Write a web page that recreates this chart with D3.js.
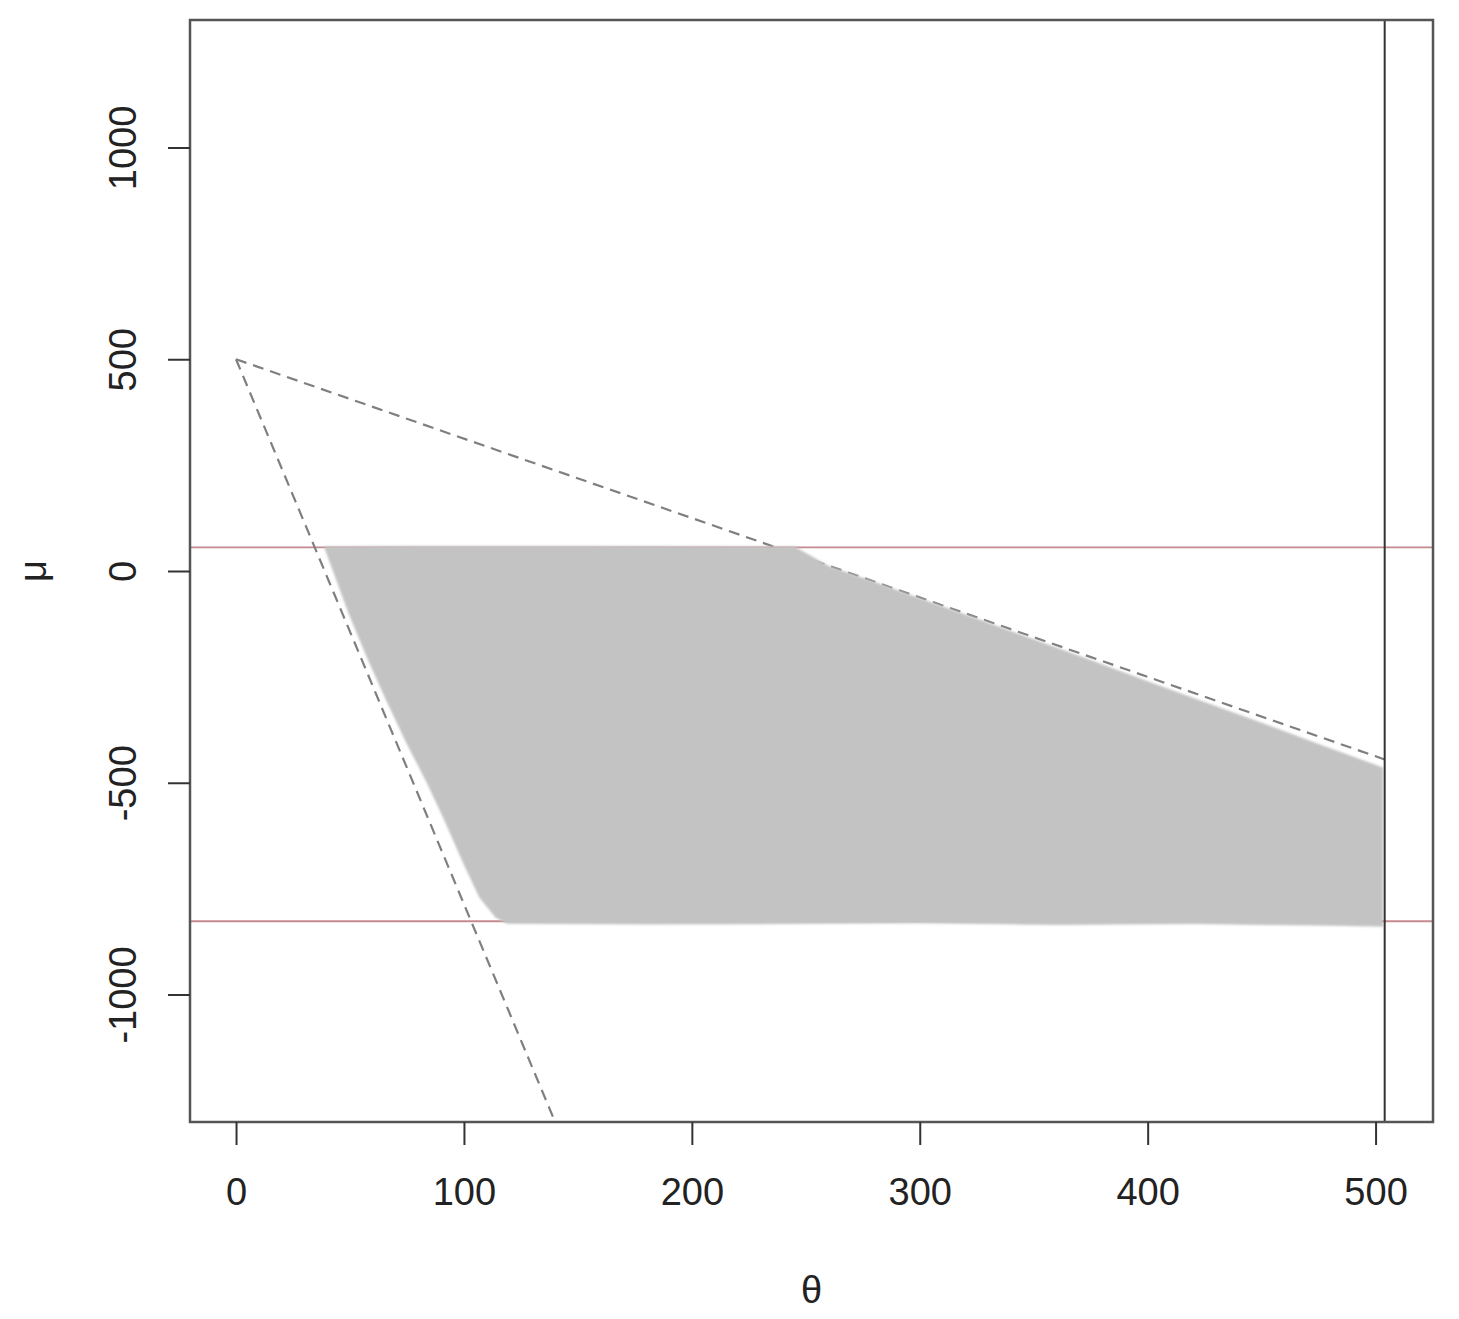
<!DOCTYPE html>
<html>
<head>
<meta charset="utf-8">
<script src="https://cdn.jsdelivr.net/npm/d3@7"></script>
<style>
  html, body { margin: 0; padding: 0; background: #fff; }
  svg { display: block; }
</style>
</head>
<body>
<svg id="chart" width="1459" height="1319"></svg>
<script>
// ---- data ----
const xTicks = [0, 100, 200, 300, 400, 500];
const yTicks = [-1000, -500, 0, 500, 1000];
const xDomain = [-20.2, 525.2];
const yDomain = [-1301, 1301];

// boundary of the grey cloud of sampled points (theta, mu), clockwise
const cloudTheta = [39, 80, 150, 245, 260, 280, 300, 325, 350, 375, 400, 425, 450, 475, 503,
                    503, 480, 420, 360, 300, 240, 180, 119, 114, 107, 100, 91.5, 84, 74.5, 65.7, 57.4, 49.7, 39];
const cloudMu    = [56, 57, 57, 56, 10, -27, -66, -114, -163, -212, -262, -311, -360, -410, -465,
                    -838, -836, -832, -834, -830, -832, -833, -831, -817, -770, -690, -586, -500, -400, -300, -200, -100, 56];

// dashed bounding lines from (0, 500)
const dashFrom = [[0, 500], [0, 500]];
const dashTo   = [[504, -445], [140, -1301]];

// horizontal reference lines (red) and vertical line (black)
const hLines = [56, -827];
const vLines = [504];

// ---- layout ----
(function () {
const svg = d3.select("#chart");
const mL = 190, mR = 1433, mT = 20, mB = 1122;
const x = d3.scaleLinear().domain(xDomain).range([mL, mR]);
const y = d3.scaleLinear().domain(yDomain).range([mB, mT]);
const font = "'Liberation Sans', Arial, Helvetica, sans-serif";

const defs = svg.append("defs");
defs.append("clipPath").attr("id", "plotclip")
  .append("rect").attr("x", mL).attr("y", mT)
  .attr("width", mR - mL).attr("height", mB - mT);
defs.append("filter").attr("id", "soft")
  .append("feGaussianBlur").attr("stdDeviation", 1.2);

const plot = svg.append("g").attr("clip-path", "url(#plotclip)");

// red horizontal lines
plot.selectAll("line.h").data(hLines).enter().append("line")
  .attr("class", "h")
  .attr("x1", mL).attr("x2", mR)
  .attr("y1", d => y(d)).attr("y2", d => y(d))
  .attr("stroke", "#c48a8f").attr("stroke-width", 1.8);

// dashed lines
plot.selectAll("line.dash").data(dashFrom).enter().append("line")
  .attr("class", "dash")
  .attr("x1", d => x(d[0])).attr("y1", d => y(d[1]))
  .attr("x2", (d, i) => x(dashTo[i][0])).attr("y2", (d, i) => y(dashTo[i][1]))
  .attr("stroke", "#7f7f7f").attr("stroke-width", 2.2)
  .attr("stroke-dasharray", "11,7");

// grey cloud
const cloud = cloudTheta.map((t, i) => [t, cloudMu[i]]);
plot.append("path")
  .datum(cloud)
  .attr("d", d3.line().x(d => x(d[0])).y(d => y(d[1])))
  .attr("fill", "#c3c3c3")
  .attr("stroke", "#c6c6c6")
  .attr("stroke-width", 1.5)
  .attr("filter", "url(#soft)");

// vertical black line
plot.selectAll("line.v").data(vLines).enter().append("line")
  .attr("class", "v")
  .attr("x1", d => x(d)).attr("x2", d => x(d))
  .attr("y1", mT).attr("y2", mB)
  .attr("stroke", "#333").attr("stroke-width", 2);

// frame
svg.append("rect")
  .attr("x", mL).attr("y", mT)
  .attr("width", mR - mL).attr("height", mB - mT)
  .attr("fill", "none").attr("stroke", "#555").attr("stroke-width", 2.5);

// x axis
const xAxis = d3.axisBottom(x).tickValues(xTicks).tickSize(23).tickPadding(33).tickFormat(d => String(d));
const gx = svg.append("g").attr("transform", `translate(0,${mB})`).call(xAxis);
gx.select(".domain").remove();
gx.selectAll(".tick line").attr("stroke", "#333").attr("stroke-width", 2);
gx.selectAll(".tick text").attr("font-family", font).attr("font-size", 38).attr("fill", "#222");

// y axis
const yAxis = d3.axisLeft(y).tickValues(yTicks).tickSize(22).tickPadding(0).tickFormat(d => String(d));
const gy = svg.append("g").attr("transform", `translate(${mL},0)`).call(yAxis);
gy.select(".domain").remove();
gy.selectAll(".tick line").attr("stroke", "#333").attr("stroke-width", 2);
gy.selectAll(".tick text")
  .attr("font-family", font).attr("font-size", 38).attr("fill", "#222")
  .attr("x", null).attr("dy", null)
  .attr("text-anchor", "middle")
  .attr("transform", "translate(-54,0) rotate(-90)");

// axis titles
svg.append("text")
  .attr("x", (mL + mR) / 2).attr("y", 1303)
  .attr("text-anchor", "middle")
  .attr("font-family", font).attr("font-size", 38).attr("fill", "#222")
  .text("θ");
svg.append("text")
  .attr("transform", `translate(46,${(mT + mB) / 2}) rotate(-90)`)
  .attr("text-anchor", "middle")
  .attr("font-family", font).attr("font-size", 38).attr("fill", "#222")
  .text("μ");
})();
</script>
</body>
</html>
